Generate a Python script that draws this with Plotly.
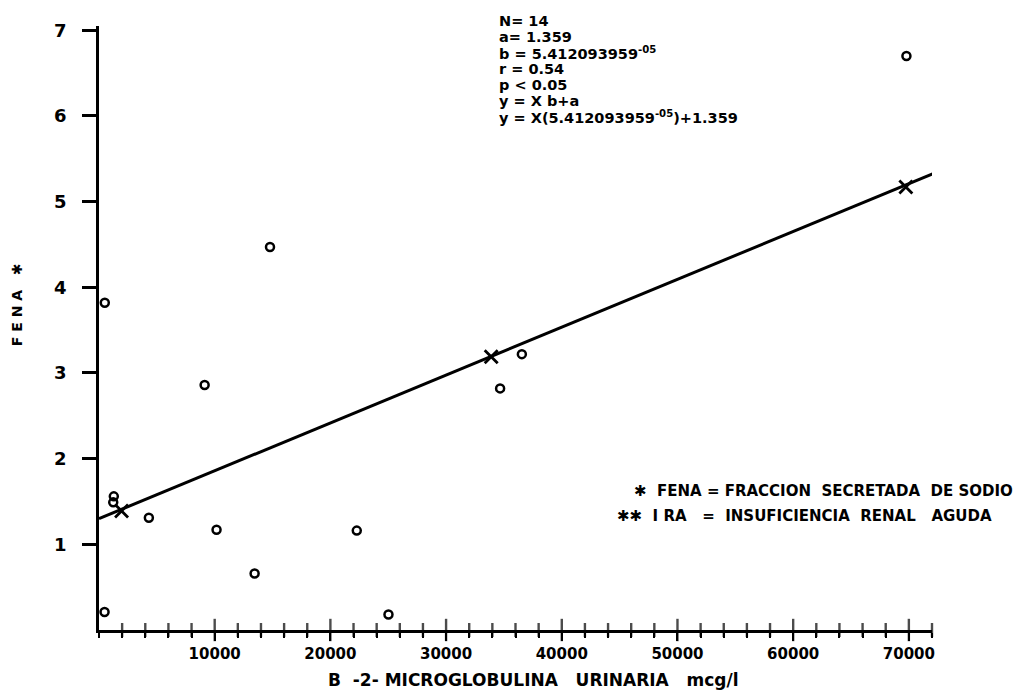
import plotly.graph_objects as go

# Data
circle_x = [480, 500, 1230, 1280, 4310, 9130, 10160, 13450, 14780, 22280, 25020, 34670, 36550, 69790]
circle_y = [0.21, 3.82, 1.49, 1.56, 1.31, 2.86, 1.17, 0.66, 4.47, 1.16, 0.18, 2.82, 3.22, 6.70]

cross_x = [1950, 33900, 69740]
cross_y = [1.39, 3.19, 5.17]

line_x = [0, 75200]
line_y = [1.30, 5.50]

x_major = [10000, 20000, 30000, 40000, 50000, 60000, 70000]
x_labels = ["10000", "20000", "30000", "40000", "50000", "60000", "70000"]
x_minor_step = 2000
x_max = 72000
y_ticks = [1, 2, 3, 4, 5, 6, 7]

stats_lines = [
    "N= 14",
    "a= 1.359",
    "b = 5.412093959<sup>-05</sup>",
    "r = 0.54",
    "p < 0.05",
    "y = X b+a",
    "y = X(5.412093959<sup>-05</sup>)+1.359",
]
legend_lines = [
    "\u2731  FENA = FRACCION  SECRETADA  DE SODIO",
    "\u2731\u2731  I RA   =  INSUFICIENCIA  RENAL   AGUDA",
]
x_title = "B  -2- MICROGLOBULINA   URINARIA   mcg/l"
y_title = "F E N A   \u2731"

FONT = "DejaVu Sans"
BOLD = dict(family=FONT, weight="bold", color="black")

# tick marks crossing the x axis (upper halves; lower halves come from the axis)
all_ticks = list(range(x_minor_step, x_max + 1, x_minor_step))
tick_sizes = [16 if v in x_major else 10 for v in all_ticks]

# plot area in paper pixels (page has an 8px body margin)
L, R, T, B, W, H = 91, 96, 12, 70, 1020, 692
PW, PH = W - L - R, H - T - B


def px_to_paper(px, py):
    """page pixel -> paper fraction of the plot area"""
    return (px - 8 - L) / PW, (H - B + 8 - py) / PH


fig = go.Figure()
fig.add_trace(go.Scatter(x=line_x, y=line_y, mode="lines",
                         line=dict(color="black", width=3), cliponaxis=False,
                         hoverinfo="skip"))
fig.add_trace(go.Scatter(x=circle_x, y=circle_y, mode="markers",
                         marker=dict(symbol="circle-open", size=8, color="black",
                                     line=dict(width=2.5, color="black")),
                         cliponaxis=False))
fig.add_trace(go.Scatter(x=cross_x, y=cross_y, mode="markers",
                         marker=dict(symbol="x-thin-open", size=13, color="black",
                                     line=dict(width=2.8, color="black")),
                         cliponaxis=False))
fig.add_trace(go.Scatter(x=all_ticks, y=[0] * len(all_ticks), mode="markers",
                         marker=dict(symbol="line-ns-open", size=tick_sizes, color="black",
                                     line=dict(width=2.4, color="black")),
                         cliponaxis=False, hoverinfo="skip"))

fig.update_layout(
    width=W, height=H,
    margin=dict(l=L, r=R, t=T, b=B),
    paper_bgcolor="white", plot_bgcolor="white",
    showlegend=False,
    font=dict(family=FONT, color="black"),
    xaxis=dict(range=[0, x_max], showgrid=False, zeroline=False,
               tickvals=x_major, ticktext=x_labels, ticks="outside",
               ticklen=8, tickwidth=2.4, tickcolor="black",
               showline=True, linecolor="black", linewidth=2.8,
               tickfont=dict(size=15, **BOLD), ticklabelstandoff=0,
               minor=dict(dtick=x_minor_step, tick0=0, ticks="outside", ticklen=5,
                          tickwidth=2.4, tickcolor="black", showgrid=False)),
    yaxis=dict(range=[0, 7.05], showgrid=False, zeroline=False,
               tickvals=y_ticks, ticks="outside", ticklen=14, tickwidth=2.8,
               tickcolor="black", showline=True, linecolor="black", linewidth=2.8,
               tickfont=dict(size=18, **BOLD), ticklabelstandoff=12),
)

ax, ay = px_to_paper(17, 302)
fig.add_annotation(x=ax, y=ay, xref="paper", yref="paper", text=y_title,
                   textangle=-90, showarrow=False, xanchor="center", yanchor="middle",
                   font=dict(size=14, **BOLD))
tx, ty = px_to_paper(533, 680)
fig.add_annotation(x=tx, y=ty, xref="paper", yref="paper", text=x_title,
                   showarrow=False, xanchor="center", yanchor="middle",
                   font=dict(size=17, **BOLD))

for i, t in enumerate(stats_lines):
    sx, sy = px_to_paper(497, 15 + i * 16.2)
    fig.add_annotation(x=sx, y=sy, xref="paper", yref="paper",
                       text=t, showarrow=False, xanchor="left", yanchor="middle",
                       font=dict(size=14.5, **BOLD))

lx, ly = px_to_paper(632, 490)
fig.add_annotation(x=lx, y=ly, xref="paper", yref="paper", text=legend_lines[0],
                   showarrow=False, xanchor="left", yanchor="middle",
                   font=dict(size=15, **BOLD))
lx, ly = px_to_paper(615, 515)
fig.add_annotation(x=lx, y=ly, xref="paper", yref="paper", text=legend_lines[1],
                   showarrow=False, xanchor="left", yanchor="middle",
                   font=dict(size=15, **BOLD))

fig.write_html("out.html")
